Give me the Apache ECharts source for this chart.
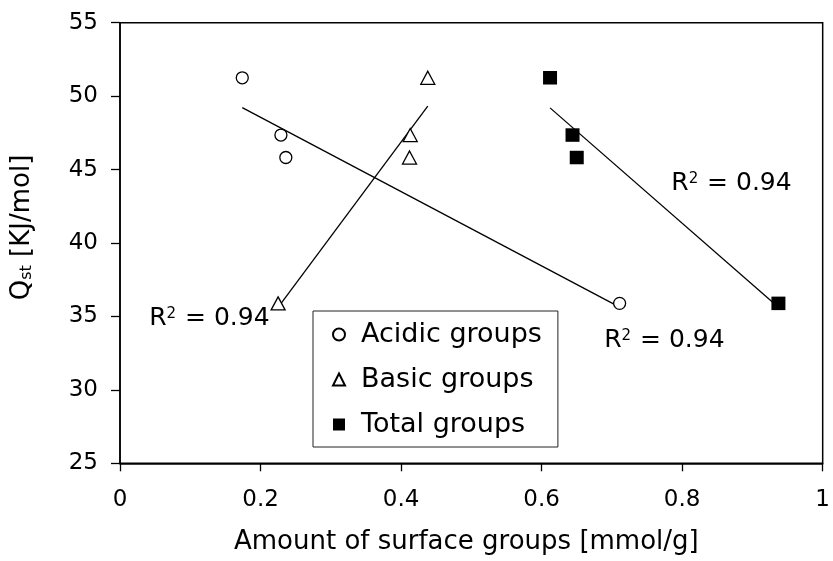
<!DOCTYPE html>
<html><head><meta charset="utf-8">
<script src="https://cdn.jsdelivr.net/npm/echarts@6/dist/echarts.min.js"></script>
<style>html,body{margin:0;padding:0;background:#fff}#c{width:833px;height:561px}</style>
</head><body><div id="c"></div>
<script>
// Q_st values (shared by the three groups of points)
const qst = [51.25, 47.35, 45.82, 35.89];
const acidicX = [0.174, 0.229, 0.236, 0.711];
const basicX = [0.438, 0.413, 0.412, 0.225];
const totalX = [0.612, 0.644, 0.650, 0.937];
const seriesNames = ['Acidic groups', 'Basic groups', 'Total groups'];
const xTickValues = [0, 0.2, 0.4, 0.6, 0.8, 1];
const yTickValues = [25, 30, 35, 40, 45, 50, 55];
const r2Values = ['0.94', '0.94', '0.94'];
// annotation anchors (data coords) for the R² labels: acidic, basic, total
const r2Anchor = { acidic: [0.689, 33.33], basic: [0.0415, 34.83], total: [0.7845, 44.04] };

const FONT = 'DejaVu Sans';

function fit(xs, ys) {
  const n = xs.length;
  const mx = xs.reduce((a, b) => a + b, 0) / n;
  const my = ys.reduce((a, b) => a + b, 0) / n;
  let sxx = 0, sxy = 0;
  for (let i = 0; i < n; i++) { sxx += (xs[i] - mx) ** 2; sxy += (xs[i] - mx) * (ys[i] - my); }
  const b = sxy / sxx, a = my - b * mx;
  const x0 = Math.min(...xs), x1 = Math.max(...xs);
  return [[x0, a + b * x0], [x1, a + b * x1]];
}
function pts(xs) { return xs.map((x, i) => [x, qst[i]]); }

const r2Rich = {
  r: { fontFamily: FONT, fontSize: 25, color: '#000' },
  sup: { fontFamily: FONT, fontSize: 15, color: '#000', verticalAlign: 'top', padding: [0, 1, 7, 0] }
};
function r2Mark(anchor, val) {
  return {
    symbol: 'circle', symbolSize: 0, silent: true,
    label: { show: true, position: 'right', distance: 0, formatter: '{r|R}{sup|2}{r| = ' + val + '}', rich: r2Rich },
    data: [{ coord: anchor }]
  };
}

const markerStyleOpen = { color: '#fff', borderColor: '#000', borderWidth: 1.3, opacity: 1 };

const chart = echarts.init(document.getElementById('c'), null, { renderer: 'canvas' });
chart.setOption({
  animation: false,
  backgroundColor: '#fff',
  grid: { left: 120, top: 22.7, right: 5.3, bottom: 97.7, show: true, borderColor: '#000', borderWidth: 1.5, backgroundColor: 'transparent' },
  xAxis: {
    type: 'value', min: 0, max: 1, interval: 0.2,
    name: 'Amount of surface groups [mmol/g]', nameLocation: 'middle', nameGap: 66,
    nameTextStyle: { fontFamily: FONT, fontSize: 26, color: '#000', padding: [0, 10, 0, 0] },
    axisLine: { show: true, lineStyle: { color: '#000', width: 1.5 } },
    axisTick: { show: true, inside: false, length: 8, lineStyle: { color: '#000', width: 1.3 } },
    axisLabel: { margin: 25, fontFamily: FONT, fontSize: 23, color: '#000',
      formatter: v => { const t = xTickValues.find(u => Math.abs(u - v) < 1e-9); return t === undefined ? '' : String(t); } },
    splitLine: { show: false }
  },
  yAxis: {
    type: 'value', min: 25, max: 55, interval: 5,
    name: '{q|Q}{s|st}{t| [KJ/mol]}', nameLocation: 'middle', nameGap: 85,
    nameTextStyle: { fontFamily: FONT, fontSize: 26, color: '#000', padding: [0, 0, 0, 31],
      rich: { q: { fontFamily: FONT, fontSize: 26, color: '#000' },
              s: { fontFamily: FONT, fontSize: 16, color: '#000', verticalAlign: 'bottom' },
              t: { fontFamily: FONT, fontSize: 26, color: '#000' } } },
    axisLine: { show: true, lineStyle: { color: '#000', width: 1.5 } },
    axisTick: { show: true, inside: false, length: 9, lineStyle: { color: '#000', width: 1.3 } },
    axisLabel: { margin: 22, fontFamily: FONT, fontSize: 23, color: '#000',
      formatter: v => { const t = yTickValues.find(u => Math.abs(u - v) < 1e-9); return t === undefined ? '' : String(t); } },
    splitLine: { show: false }
  },
  legend: {
    orient: 'vertical', left: 313, top: 311,
    padding: [10, 16, 9, 19], itemGap: 18, itemWidth: 12, itemHeight: 12,
    backgroundColor: '#fff', borderColor: '#222', borderWidth: 1,
    formatter: '{sp|}{n|{name}}',
    textStyle: { fontFamily: FONT, fontSize: 27, color: '#000',
      rich: { sp: { width: 11 }, n: { fontFamily: FONT, fontSize: 27, color: '#000' } } },
    data: seriesNames
  },
  series: [
    { name: 'fitA', type: 'line', data: fit(acidicX, qst), showSymbol: false, symbol: 'none', silent: true, z: 1,
      lineStyle: { color: '#000', width: 1.3 }, markPoint: r2Mark(r2Anchor.acidic, r2Values[0]) },
    { name: 'fitB', type: 'line', data: fit(basicX, qst), showSymbol: false, symbol: 'none', silent: true, z: 1,
      lineStyle: { color: '#000', width: 1.3 }, markPoint: r2Mark(r2Anchor.basic, r2Values[1]) },
    { name: 'fitT', type: 'line', data: fit(totalX, qst), showSymbol: false, symbol: 'none', silent: true, z: 1,
      lineStyle: { color: '#000', width: 1.3 }, markPoint: r2Mark(r2Anchor.total, r2Values[2]) },
    { name: seriesNames[0], type: 'scatter', data: pts(acidicX), symbol: 'circle', symbolSize: 12, z: 3,
      itemStyle: markerStyleOpen },
    { name: seriesNames[1], type: 'scatter', data: pts(basicX), symbol: 'triangle', symbolSize: [14, 13], z: 3,
      itemStyle: markerStyleOpen },
    { name: seriesNames[2], type: 'scatter', data: pts(totalX), symbol: 'rect', symbolSize: [14, 13.5], z: 3,
      itemStyle: { color: '#000', borderColor: '#000', borderWidth: 0, opacity: 1 } }
  ]
});
</script>
</body></html>
